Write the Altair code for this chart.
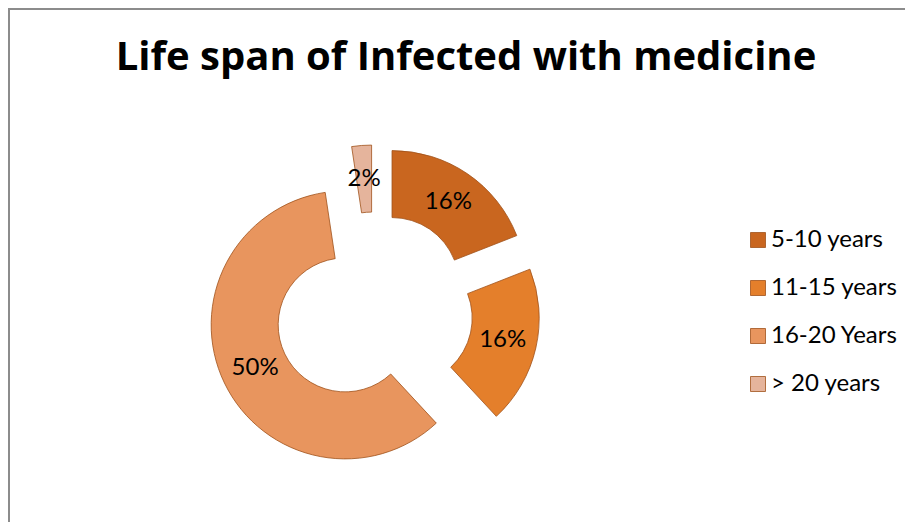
import altair as alt
import pandas as pd

# ---- data ----
categories = ["5-10 years", "11-15 years", "16-20 Years", "> 20 years"]
values = [16, 16, 50, 2]
labels = ["16%", "16%", "50%", "2%"]
colors = ["#C9661F", "#E47F2B", "#E8955E", "#E5B49C"]
title_text = ["Life span of Infected with medicine"]

# ---- layout (style) ----
W, H = 897, 514
CX, CY = 366, 303
EXPLODE = 32
R_OUT, R_IN = 134, 67
R_LABEL = 100
FONT = "Lato"
TITLE_FONT = "Open Sans"

df = pd.DataFrame({
    "category": categories,
    "value": values,
    "label": labels,
    "order": list(range(len(categories))),
})

base = (
    alt.Chart(df)
    .transform_joinaggregate(total="sum(value)")
    .transform_window(cum="sum(value)", sort=[alt.SortField("order")], frame=[None, 0])
    .transform_calculate(
        start="(datum.cum - datum.value) / datum.total * 2 * PI",
        end="datum.cum / datum.total * 2 * PI",
    )
    .transform_calculate(mid="(datum.start + datum.end) / 2")
    .transform_calculate(
        cx=f"{CX} + {EXPLODE} * sin(datum.mid)",
        cy=f"{CY} - {EXPLODE} * cos(datum.mid)",
    )
    .transform_calculate(
        lx=f"datum.cx + {R_LABEL} * sin(datum.mid)",
        ly=f"datum.cy - {R_LABEL} * cos(datum.mid)",
    )
)

arcs = base.mark_arc(
    innerRadius=R_IN, outerRadius=R_OUT, stroke="#A0521A", strokeWidth=0.8
).encode(
    theta=alt.Theta("start:Q", scale=None, stack=None),
    theta2="end:Q",
    x=alt.X("cx:Q", scale=None, axis=None),
    y=alt.Y("cy:Q", scale=None, axis=None),
    color=alt.Color(
        "category:N",
        scale=alt.Scale(domain=categories, range=colors),
        sort=categories,
        legend=alt.Legend(
            title=None,
            orient="none",
            legendX=738,
            legendY=220,
            symbolType="square",
            symbolSize=225,
            symbolStrokeColor="#A0521A",
            symbolStrokeWidth=0.8,
            labelFont=FONT,
            labelFontSize=24,
            labelColor="black",
            labelOffset=1,
            rowPadding=24,
        ),
    ),
)

text_labels = base.mark_text(
    font=FONT, fontSize=24, color="black", align="center", baseline="middle"
).encode(
    x=alt.X("lx:Q", scale=None, axis=None),
    y=alt.Y("ly:Q", scale=None, axis=None),
    text="label:N",
)

title = alt.Chart(pd.DataFrame({"t": title_text})).mark_text(
    font=TITLE_FONT, fontSize=40, fontWeight="bold", color="black",
    align="center", baseline="alphabetic"
).encode(x=alt.value(458), y=alt.value(62), text="t:N")

one = pd.DataFrame({"a": [0]})
border_left = alt.Chart(one).mark_rule(color="#8c8c8c", strokeWidth=2).encode(
    x=alt.value(1), y=alt.value(0), y2=alt.value(H)
)
border_top = alt.Chart(one).mark_rule(color="#8c8c8c", strokeWidth=2).encode(
    y=alt.value(1), x=alt.value(0), x2=alt.value(W)
)

chart = (
    alt.layer(border_left, border_top, title, arcs, text_labels)
    .properties(width=W, height=H, autosize="none", padding=0, background="white")
    .configure_view(stroke=None)
)

chart.save("out.html", embed_options={"renderer": "svg", "actions": False})
